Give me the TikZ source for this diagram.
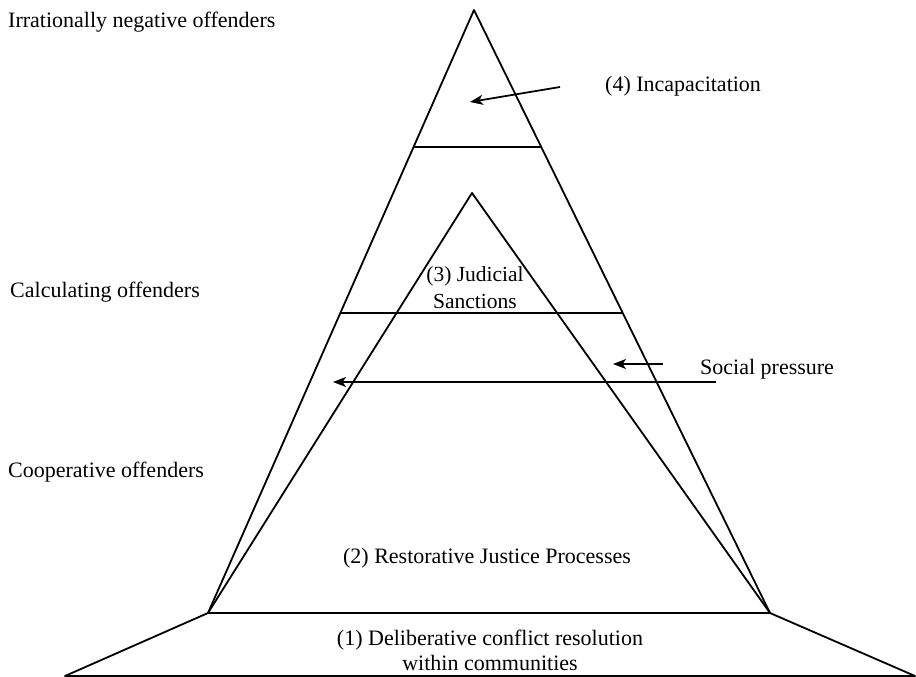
\documentclass[tikz,border=0pt]{standalone}
\usepackage{fontspec}
\setmainfont{Liberation Serif}
\usetikzlibrary{arrows.meta,calc}
\begin{document}
\begin{tikzpicture}[x=1pt,y=-1pt,
  edge/.style={line width=1.8pt, line join=round},
  arr/.style={line width=1.8pt,-{Stealth[length=13pt,width=10pt,inset=3.5pt]}},
  lbl/.style={font=\fontsize{22}{26}\selectfont, inner sep=0pt},
  lblj/.style={font=\fontsize{21.5}{27}\selectfont, inner sep=0pt},
  lbld/.style={font=\fontsize{22}{25}\selectfont, inner sep=0pt},
]
\useasboundingbox (0,0) rectangle (916,677);
% main shapes
\coordinate (A) at (474,10);
\coordinate (BL) at (208,613);
\coordinate (BR) at (770,613);
\coordinate (I) at (472,193);
\coordinate (TL) at (65,676);
\coordinate (TR) at (915,676);
\coordinate (h1l) at ($(A)!0.2272!(BL)$);
\coordinate (h1r) at ($(A)!0.2272!(BR)$);
\coordinate (h2l) at ($(A)!0.5025!(BL)$);
\coordinate (h2r) at ($(A)!0.5025!(BR)$);
\draw[edge] (BL) -- (A) -- (BR) -- cycle;
\draw[edge] (BL) -- (I) -- (BR);
\draw[edge] (h1l) -- (h1r);
\draw[edge] (h2l) -- (h2r);
\draw[edge] (BL) -- (TL) -- (TR) -- (BR);
% labels
\node[lbl, anchor=west] (irr) at (8,22) {Irrationally negative offenders};
\node[lbl, anchor=west] (calc) at (10,292) {Calculating offenders};
\node[lbl, anchor=west] (coop) at (8,472) {Cooperative offenders};
\node[lbl, anchor=west] (inc) at (605,86) {(4) Incapacitation};
\node[lblj, align=center] (jud) at (475,288) {(3) Judicial\\Sanctions};
\node[lbl, anchor=west] (soc) at (700,369) {Social pressure};
\node[lbl] (rest) at (487,558) {(2) Restorative Justice Processes};
\node[lbld, align=center] (delib) at (490,650) {(1) Deliberative conflict resolution\\within communities};
% arrows
\coordinate (a1s) at (560,87);
\coordinate (a1e) at (470,102);
\coordinate (a2s) at (663,364);
\coordinate (a2e) at (613,364);
\coordinate (a3s) at (716,382);
\coordinate (a3e) at (333,382);
\draw[arr] (a1s) -- (a1e);
\draw[arr] (a2s) -- (a2e);
\draw[arr] (a3s) -- (a3e);
\end{tikzpicture}
\end{document}
